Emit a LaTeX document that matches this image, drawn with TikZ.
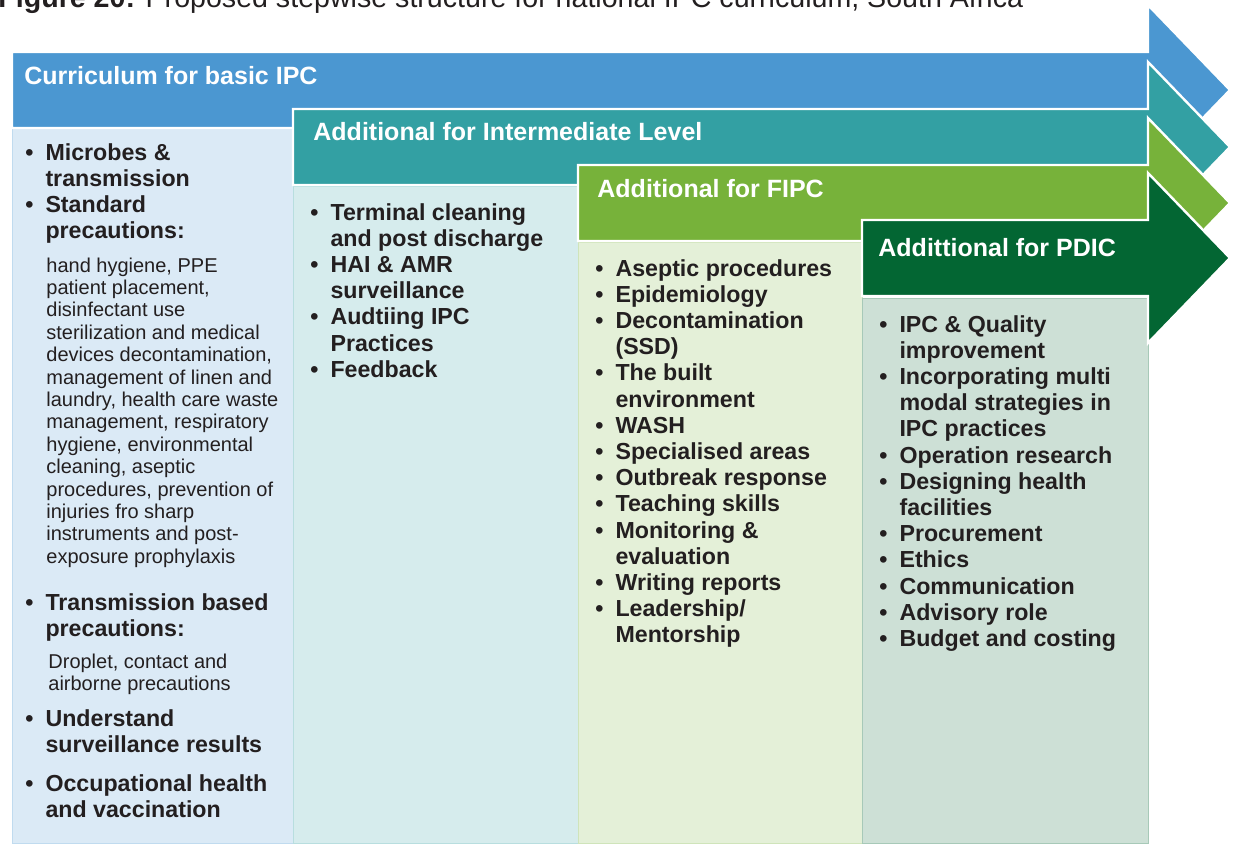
\documentclass[tikz,border=0pt]{standalone}
\usepackage{fontspec}
\setmainfont{Liberation Sans}
\definecolor{ipcblue}{HTML}{4B97D1}
\definecolor{ipcteal}{HTML}{33A0A3}
\definecolor{ipclime}{HTML}{77B23A}
\definecolor{ipcgreen}{HTML}{036633}
\definecolor{ipctext}{HTML}{231F20}

\begin{document}
\begin{tikzpicture}[x=0.5pt, y=-0.5pt,
    head/.style={anchor=base west, inner sep=0, text=white, font=\fontsize{12.5}{15}\selectfont\bfseries},
    pts/.style={anchor=base west, inner sep=0, text=ipctext, font=\fontsize{11.6}{13.1}\selectfont\bfseries},
    note/.style={anchor=base west, inner sep=0, text=ipctext, font=\fontsize{10}{11.2}\selectfont}]
    \useasboundingbox (0,0) rectangle (1235,843);
    \node[anchor=base west, inner sep=0, text=ipctext, font=\fontsize{14.3}{17}\selectfont] (title) at (-2,7)
        {\textbf{Figure 20:} Proposed stepwise structure for national IPC curriculum, South Africa};
    \foreach \x/\t/\e/\col in {12/128/293/ipcblue, 293/186/578/ipcteal, 578/242/862/ipclime, 862/298/1148/ipcgreen} {
        \filldraw[fill=\col!20, draw=\col!35, line width=0.4pt] (\x,\t) rectangle (\e,843);
    }
    \foreach \x/\c/\col in {12/90/ipcblue, 293/147/ipcteal, 578/203/ipclime, 862/258/ipcgreen} {
        \filldraw[fill=\col, draw=white, line width=1.2pt] (\x,\c-38) -- (1148,\c-38) -- (1148,\c-85) -- (1230,\c)
            -- (1148,\c+85) -- (1148,\c+38) -- (\x,\c+38) -- cycle;
    }
    \node[head] (basic) at (24,84) {Curriculum for basic IPC};
    \node[head] (inter) at (313,140) {Additional for Intermediate Level};
    \node[head] (fipc) at (597,197) {Additional for FIPC};
    \node[head] (pdic) at (878,256) {Addittional for PDIC};
    \node[pts] (basicA) at (25,160) {\begin{tabular}[t]{@{}l@{\hspace{6pt}}l@{}}
        \textbullet & Microbes \& \\ & transmission \\
        \textbullet & Standard \\ & precautions:\end{tabular}};
    \node[note] (stdnote) at (46,272) {\begin{tabular}[t]{@{}l@{}}
        hand hygiene, PPE \\ patient placement, \\ disinfectant use \\ sterilization and medical \\
        devices decontamination, \\ management of linen and \\ laundry, health care waste \\
        management, respiratory \\ hygiene, environmental \\ cleaning, aseptic \\
        procedures, prevention of \\ injuries fro sharp \\ instruments and post- \\
        exposure prophylaxis\end{tabular}};
    \node[pts] (basicB) at (25,610) {\begin{tabular}[t]{@{}l@{\hspace{6pt}}l@{}}
        \textbullet & Transmission based \\ & precautions:\end{tabular}};
    \node[note] (tbnote) at (48,668) {\begin{tabular}[t]{@{}l@{}}
        Droplet, contact and \\ airborne precautions\end{tabular}};
    \node[pts] (basicC) at (25,726) {\begin{tabular}[t]{@{}l@{\hspace{6pt}}l@{}}
        \textbullet & Understand \\ & surveillance results\end{tabular}};
    \node[pts] (basicD) at (25,791) {\begin{tabular}[t]{@{}l@{\hspace{6pt}}l@{}}
        \textbullet & Occupational health \\ & and vaccination\end{tabular}};
    \node[pts] (interlist) at (310,220) {\begin{tabular}[t]{@{}l@{\hspace{6pt}}l@{}}
        \textbullet & Terminal cleaning \\ & and post discharge \\
        \textbullet & HAI \& AMR \\ & surveillance \\
        \textbullet & Audtiing IPC \\ & Practices \\
        \textbullet & Feedback\end{tabular}};
    \node[pts] (fipclist) at (595,276) {\begin{tabular}[t]{@{}l@{\hspace{6pt}}l@{}}
        \textbullet & Aseptic procedures \\
        \textbullet & Epidemiology \\
        \textbullet & Decontamination \\ & (SSD) \\
        \textbullet & The built \\ & environment \\
        \textbullet & WASH \\
        \textbullet & Specialised areas \\
        \textbullet & Outbreak response \\
        \textbullet & Teaching skills \\
        \textbullet & Monitoring \& \\ & evaluation \\
        \textbullet & Writing reports \\
        \textbullet & Leadership/ \\ & Mentorship\end{tabular}};
    \node[pts] (pdiclist) at (879,332) {\begin{tabular}[t]{@{}l@{\hspace{6pt}}l@{}}
        \textbullet & IPC \& Quality \\ & improvement \\
        \textbullet & Incorporating multi \\ & modal strategies in \\ & IPC practices \\
        \textbullet & Operation research \\
        \textbullet & Designing health \\ & facilities \\
        \textbullet & Procurement \\
        \textbullet & Ethics \\
        \textbullet & Communication \\
        \textbullet & Advisory role \\
        \textbullet & Budget and costing\end{tabular}};
\end{tikzpicture}
\end{document}
